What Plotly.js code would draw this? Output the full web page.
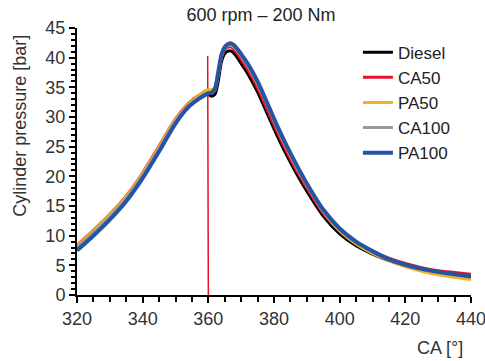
<!DOCTYPE html>
<html>
<head>
<meta charset="utf-8">
<script src="https://cdn.plot.ly/plotly-3.0.1.min.js"></script>
<style>html,body{margin:0;padding:0;background:#fff;}#chart{width:485px;height:361px;}</style>
</head>
<body>
<div id="chart"></div>
<script>
// Crank angle [°]
const crankAngle = [320, 325, 330, 335, 340, 345, 350, 354, 357, 359, 360, 361, 362, 363, 364, 365, 366, 367, 368, 370, 372, 375, 378, 381, 384, 387, 390, 395, 400, 405, 410, 415, 420, 425, 430, 435, 440];

// Cylinder pressure [bar]
const diesel = [8.2, 10.7, 13.4, 16.5, 20.4, 24.9, 29.5, 32.2, 33.5, 34.0, 33.8, 33.5, 33.8, 36.0, 39.3, 40.7, 41.1, 41.1, 40.6, 39.0, 37.3, 34.2, 30.5, 26.8, 23.4, 20.3, 17.5, 13.3, 10.3, 8.3, 6.9, 5.8, 4.9, 4.3, 3.8, 3.4, 3.0];
const ca50   = [8.4, 10.9, 13.6, 16.7, 20.6, 25.1, 29.7, 32.3, 33.6, 34.1, 34.1, 34.0, 34.5, 37.0, 40.0, 41.4, 41.8, 41.8, 41.3, 39.7, 38.0, 34.9, 31.2, 27.5, 24.0, 20.9, 18.1, 13.8, 10.8, 8.8, 7.3, 6.2, 5.3, 4.6, 4.1, 3.8, 3.5];
const pa50   = [8.3, 10.8, 13.5, 16.6, 20.5, 25.0, 29.6, 32.2, 33.6, 34.4, 34.6, 34.6, 34.9, 37.4, 40.3, 41.7, 42.1, 42.1, 41.7, 40.3, 38.6, 35.6, 32.0, 28.1, 24.6, 21.4, 18.5, 14.1, 10.8, 8.6, 7.0, 5.8, 4.8, 4.0, 3.4, 3.0, 2.6];
const ca100  = [8.0, 10.5, 13.2, 16.3, 20.2, 24.7, 29.3, 32.0, 33.3, 33.9, 34.0, 34.0, 34.6, 37.2, 40.2, 41.6, 42.1, 42.2, 41.8, 40.4, 38.7, 35.7, 32.0, 28.2, 24.7, 21.5, 18.6, 14.2, 11.0, 8.8, 7.2, 6.0, 5.0, 4.3, 3.8, 3.4, 3.1];
const pa100  = [7.5, 10.0, 12.7, 15.8, 19.7, 24.2, 28.9, 31.7, 33.0, 33.7, 34.0, 34.1, 34.8, 37.5, 40.5, 41.8, 42.3, 42.4, 42.0, 40.6, 39.0, 36.0, 32.3, 28.5, 25.0, 21.8, 18.8, 14.4, 11.2, 9.0, 7.4, 6.0, 5.1, 4.4, 3.9, 3.5, 3.1];

// Vertical red spike of CA50 trace near TDC
const spikeAngle = [359.8, 360];
const spikePressure = [40.3, 0];

const seriesNames = ['Diesel', 'CA50', 'PA50', 'CA100', 'PA100'];
const seriesData = [diesel, ca50, pa50, ca100, pa100];
const seriesColors = ['#000000', '#e8102a', '#f5b21b', '#9a9a9a', '#2454a6'];
const seriesWidths = [3, 3, 3, 3, 4];

const traces = seriesNames.map((n, i) => ({
  x: crankAngle, y: seriesData[i], name: n, type: 'scatter', mode: 'lines',
  line: {color: seriesColors[i], width: seriesWidths[i], shape: 'spline', smoothing: 0.8}
}));
traces.splice(2, 0, {
  x: spikeAngle, y: spikePressure, type: 'scatter', mode: 'lines', showlegend: false,
  line: {color: '#e8102a', width: 1.5}, hoverinfo: 'skip'
});

const fontFam = '"Liberation Sans", Arial, sans-serif';
const layout = {
  width: 485, height: 361,
  margin: {l: 77, r: 14, t: 28, b: 66},
  paper_bgcolor: '#fff', plot_bgcolor: '#fff',
  font: {family: fontFam, size: 18, color: '#333'},
  title: {text: '600 rpm – 200 Nm', x: 0.467, xref: 'paper', xanchor: 'center', y: 0.958, yanchor: 'middle', font: {size: 18, color: '#222'}},
  xaxis: {
    range: [320, 440], dtick: 20, tick0: 320, showgrid: false, zeroline: false,
    showline: true, linecolor: '#000', linewidth: 2,
    ticks: 'outside', ticklen: 6, tickwidth: 2, tickcolor: '#000',
    minor: {dtick: 5, ticks: 'outside', ticklen: 5, tickwidth: 2, tickcolor: '#000', showgrid: false},
    tickfont: {size: 18, color: '#333'}, ticklabeloverflow: 'allow'
  },
  yaxis: {
    range: [0, 45], dtick: 5, showgrid: false, zeroline: false,
    showline: true, linecolor: '#000', linewidth: 2,
    ticks: 'outside', ticklen: 6, tickwidth: 2, tickcolor: '#000',
    minor: {dtick: 1, ticks: 'outside', ticklen: 4, tickwidth: 2, tickcolor: '#000', showgrid: false},
    tickfont: {size: 18, color: '#333'}
  },
  legend: {
    x: 0.713, y: 0.975, xanchor: 'left', yanchor: 'top',
    bgcolor: 'rgba(0,0,0,0)', font: {size: 17, color: '#222'},
    tracegroupgap: 0
  },
  annotations: [{
    text: 'CA [°]', xref: 'paper', yref: 'paper', x: 0.985, y: -0.155,
    xanchor: 'right', yanchor: 'top', showarrow: false, font: {size: 18, color: '#333'}
  }, {
    text: 'Cylinder pressure [bar]', xref: 'paper', yref: 'paper', x: -0.145, y: 0.633,
    xanchor: 'center', yanchor: 'middle', textangle: -90, showarrow: false, font: {size: 18, color: '#333'}
  }],
  showlegend: true
};

Plotly.newPlot('chart', traces, layout, {displayModeBar: false, staticPlot: true});
</script>
</body>
</html>
